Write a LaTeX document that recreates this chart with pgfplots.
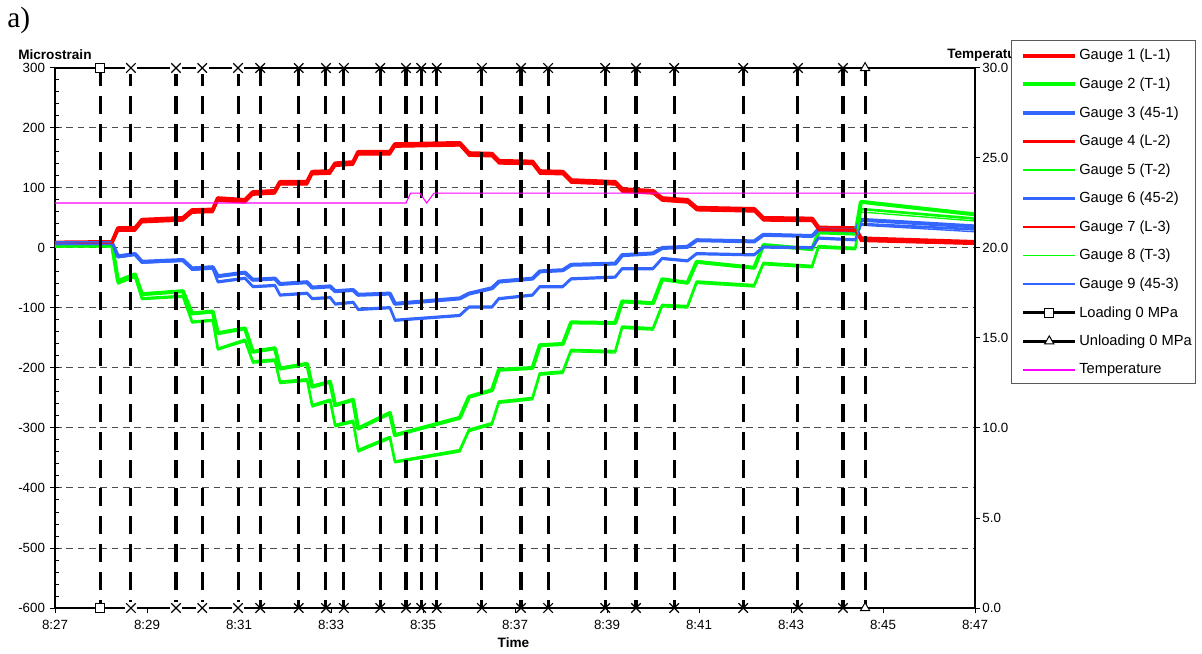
\documentclass[border=0pt]{standalone}
\usepackage{fontspec}
\setmainfont{Liberation Sans}
\newfontfamily\serifA{Liberation Serif}
\usepackage{pgfplots}
\usepackage{pgfplotstable}
\pgfplotsset{compat=1.18}

\definecolor{gred}{RGB}{255,0,0}
\definecolor{ggreen}{RGB}{0,255,0}
\definecolor{gblue}{RGB}{51,102,255}
\definecolor{tmag}{RGB}{255,0,255}

% strain readings (microstrain), time in minutes after 8:00
\pgfplotstableread{
t     g1   g2    g3   g4   g5    g6    g7   g8    g9
27.00 9    4     8    7    3     7     6    2     6
28.24 10   5     8    8    3     7     7    2     6
28.37 33   -55   -14  30   -58   -15   28   -60   -16
28.74 33   -44   -10  30   -47   -11   28   -49   -12
28.89 47   -77   -23  44   -84   -24   42   -86   -25
29.78 50   -72   -20  47   -80   -21   45   -82   -22
29.98 63   -109  -34  60   -123  -36   58   -125  -37
30.43 64   -106  -32  61   -120  -34   59   -122  -35
30.54 83   -142  -47  80   -168  -56   78   -170  -58
31.13 80   -134  -41  77   -153  -50   75   -156  -52
31.30 93   -173  -53  90   -189  -64   88   -192  -66
31.78 95   -167  -51  92   -186  -62   90   -189  -64
31.89 110  -201  -60  107  -223  -78   105  -226  -80
32.48 110  -193  -57  107  -219  -75   105  -222  -77
32.59 127  -231  -66  124  -262  -84   122  -265  -86
32.98 128  -223  -64  125  -253  -82   123  -256  -84
33.09 141  -262  -72  138  -295  -93   136  -298  -95
33.48 143  -253  -70  140  -288  -90   138  -291  -92
33.59 160  -301  -78  157  -337  -102  155  -340  -104
34.28 160  -275  -76  157  -315  -99   155  -318  -101
34.39 173  -312  -93  170  -356  -120  168  -358  -122
35.80 175  -283  -84  172  -337  -112  170  -340  -114
36.00 158  -248  -76  155  -303  -98   153  -306  -100
36.50 157  -237  -67  154  -292  -98   152  -295  -100
36.65 145  -203  -56  142  -256  -84   140  -259  -86
37.38 144  -200  -51  141  -250  -78   139  -253  -80
37.54 128  -162  -39  125  -209  -64   123  -212  -66
38.04 127  -160  -37  124  -206  -64   122  -209  -66
38.22 113  -124  -28  110  -170  -51   108  -173  -53
39.18 110  -125  -26  107  -172  -48   105  -175  -50
39.33 98   -89   -12  95   -131  -34   93   -134  -36
40.00 95   -92   -9   92   -134  -34   90   -137  -36
40.20 83   -52   0    80   -95   -17   78   -98   -19
40.75 80   -58   2    77   -97   -21   75   -100  -23
40.95 67   -23   13   64   -56   -9    62   -59   -11
42.20 65   -33   11   62   -62   -11   60   -65   -13
42.40 50   5     22   47   -25   2     45   -28   0
43.46 49   -2    20   46   -30   1     44   -33   -1
43.60 34   26    31   31   3     17    29   0     15
44.40 33   24    29   30   0     14    28   -3    12
44.52 16   77    47   13   65    40    11   60    38
47.00 10   56    36   8    49    31    6    45    27
}\gaugedata

% temperature (deg C)
\pgfplotstableread{
t     T
27.00 22.5
34.63 22.5
34.73 23.05
34.93 23.05
35.08 22.5
35.24 23.05
47.00 23.05
}\tempdata

% load steps: vertical lines from top to bottom
\pgfplotstableread{
t     y
27.98 300
27.98 -600
nan   nan
28.65 300
28.65 -600
nan   nan
29.63 300
29.63 -600
nan   nan
30.20 300
30.20 -600
nan   nan
30.98 300
30.98 -600
nan   nan
31.46 300
31.46 -600
nan   nan
32.30 300
32.30 -600
nan   nan
32.89 300
32.89 -600
nan   nan
33.28 300
33.28 -600
nan   nan
34.07 300
34.07 -600
nan   nan
34.63 300
34.63 -600
nan   nan
34.96 300
34.96 -600
nan   nan
35.30 300
35.30 -600
nan   nan
36.28 300
36.28 -600
nan   nan
37.13 300
37.13 -600
nan   nan
37.72 300
37.72 -600
nan   nan
38.96 300
38.96 -600
nan   nan
39.63 300
39.63 -600
nan   nan
40.46 300
40.46 -600
nan   nan
41.96 300
41.96 -600
nan   nan
43.15 300
43.15 -600
nan   nan
44.13 300
44.13 -600
nan   nan
44.61 300
44.61 -600
}\eventlines

\pgfplotstableread{
t     y
28.65 300
28.65 -600
29.63 300
29.63 -600
30.20 300
30.20 -600
30.98 300
30.98 -600
}\crossA

\pgfplotstableread{
t     y
31.46 300
31.46 -600
32.30 300
32.30 -600
32.89 300
32.89 -600
33.28 300
33.28 -600
34.07 300
34.07 -600
34.63 300
34.63 -600
34.96 300
34.96 -600
35.30 300
35.30 -600
36.28 300
36.28 -600
37.13 300
37.13 -600
37.72 300
37.72 -600
38.96 300
38.96 -600
39.63 300
39.63 -600
40.46 300
40.46 -600
41.96 300
41.96 -600
43.15 300
43.15 -600
44.13 300
44.13 -600
}\crossB

\pgfplotstableread{
t     y
27.98 300
27.98 -600
}\loadzero

\pgfplotstableread{
t     y
44.61 300
44.61 -600
}\unloadzero

\newcommand\ticksize{\fontsize{10}{12}\selectfont}
\newcommand\titlesize{\bfseries\fontsize{10.2}{12}\selectfont}

\begin{document}
\begin{tikzpicture}
\path[use as bounding box] (0,0) rectangle (901.5pt,489.75pt);

\node[anchor=base west, inner sep=0pt, font=\serifA\fontsize{22}{26}\selectfont] at (5.25pt,468.75pt) {a)};
\node[anchor=west, inner sep=0pt, font=\titlesize] at (13.5pt,448.5pt) {Microstrain};
\node[anchor=west, inner sep=0pt, font=\titlesize] at (710.25pt,448.5pt) {Temperature};
\node[anchor=center, inner sep=0pt, font=\titlesize] at (385.1pt,7.5pt) {Time};

% legend frame
\draw[draw=black!65, fill=white, line width=0.75pt] (758.25pt,201.75pt) rectangle (896.25pt,459pt);

\begin{axis}[
  at={(41.25pt,33.75pt)}, anchor=south west,
  scale only axis, width=690pt, height=405pt,
  xmin=27, xmax=47, ymin=-600, ymax=300,
  clip=false,
  axis x line*=bottom, axis y line*=left,
  axis line style={-, black, line width=1pt},
  xtick={27,29,...,47},
  xticklabels={8:27,8:29,8:31,8:33,8:35,8:37,8:39,8:41,8:43,8:45,8:47},
  ytick={-600,-500,...,300},
  yticklabels={-600,-500,-400,-300,-200,-100,0,100,200,300},
  minor ytick={-580,-560,...,280},
  tick align=outside,
  major tick length=4pt, minor tick length=3pt,
  tick style={black, line width=0.75pt},
  minor tick style={xshift=3pt},
  ymajorgrids,
  major grid style={black!70, line width=0.75pt, dash pattern=on 5pt off 3.5pt},
  tick label style={font=\ticksize},
  xticklabel style={yshift=-1.5pt},
  unbounded coords=jump,
  legend image code/.code={\draw[mark repeat=2,mark phase=2,#1] plot coordinates {(0pt,0pt) (19.5pt,0pt) (39pt,0pt)};},
  legend cell align=left,
  legend style={at={(1.05,1.05)}, anchor=north west, draw=none, fill=none,
    inner xsep=0pt, inner ysep=0pt, row sep=0pt, column sep=1.5pt,
    font=\fontsize{11}{13}\selectfont,
    nodes={inner sep=0pt, minimum height=21.43pt, anchor=west}},
]
\addplot[gred, line width=3pt, line join=round, mark=none] table[x=t,y=g1] {\gaugedata};
\addlegendentry{Gauge 1 (L-1)}
\addplot[ggreen, line width=3pt, line join=round, mark=none] table[x=t,y=g2] {\gaugedata};
\addlegendentry{Gauge 2 (T-1)}
\addplot[gblue, line width=3pt, line join=round, mark=none] table[x=t,y=g3] {\gaugedata};
\addlegendentry{Gauge 3 (45-1)}
\addplot[gred, line width=2pt, line join=round, mark=none] table[x=t,y=g4] {\gaugedata};
\addlegendentry{Gauge 4 (L-2)}
\addplot[ggreen, line width=2pt, line join=round, mark=none] table[x=t,y=g5] {\gaugedata};
\addlegendentry{Gauge 5 (T-2)}
\addplot[gblue, line width=2pt, line join=round, mark=none] table[x=t,y=g6] {\gaugedata};
\addlegendentry{Gauge 6 (45-2)}
\addplot[gred, line width=1pt, line join=round, mark=none] table[x=t,y=g7] {\gaugedata};
\addlegendentry{Gauge 7 (L-3)}
\addplot[ggreen, line width=1pt, line join=round, mark=none] table[x=t,y=g8] {\gaugedata};
\addlegendentry{Gauge 8 (T-3)}
\addplot[gblue, line width=1pt, line join=round, mark=none] table[x=t,y=g9] {\gaugedata};
\addlegendentry{Gauge 9 (45-3)}

% top and bottom rails
\addplot[black, line width=2.2pt, mark=none, forget plot] coordinates {(27,300) (47,300)};
\addplot[black, line width=2.2pt, mark=none, forget plot] coordinates {(27,-600) (47,-600)};

% load steps
\addplot[black, line width=2.3pt, mark=none, dash pattern=on 13.5pt off 7.5pt, forget plot] table[x=t,y=y] {\eventlines};
\addplot[only marks, mark=square*, mark size=4.2pt, white, forget plot] table[x=t,y=y] {\crossA};
\addplot[only marks, mark=x, mark size=5pt, black, line width=0.9pt, forget plot] table[x=t,y=y] {\crossA};
\addplot[only marks, mark=x, mark size=5pt, black, line width=0.9pt, forget plot] table[x=t,y=y] {\crossB};
\addplot[only marks, mark=square*, mark size=3.4pt, mark options={fill=white, draw=black, line width=0.75pt}, forget plot] table[x=t,y=y] {\loadzero};
\addplot[only marks, mark=triangle*, mark size=4pt, mark options={fill=white, draw=black, line width=0.75pt}, forget plot] table[x=t,y=y] {\unloadzero};

\addlegendimage{black, line width=2.25pt, mark=square*, mark size=3.4pt, mark options={fill=white, draw=black, line width=0.75pt}}
\addlegendentry{Loading 0 MPa}
\addlegendimage{black, line width=2.25pt, mark=triangle*, mark size=4pt, mark options={fill=white, draw=black, line width=0.75pt}}
\addlegendentry{Unloading 0 MPa}
\addlegendimage{tmag, line width=1pt, mark=none}
\addlegendentry{Temperature}
\end{axis}

\begin{axis}[
  at={(41.25pt,33.75pt)}, anchor=south west,
  scale only axis, width=690pt, height=405pt,
  xmin=27, xmax=47, ymin=0, ymax=30,
  axis x line=none, axis y line*=right,
  axis line style={-, black, line width=1pt},
  ytick={0,5,...,30},
  yticklabels={0.0,5.0,10.0,15.0,20.0,25.0,30.0},
  tick align=outside, major tick length=4pt,
  tick style={black, line width=0.75pt},
  tick label style={font=\ticksize},
  yticklabel style={xshift=-2pt},
]
\addplot[tmag, line width=0.8pt, mark=none] table[x=t,y=T] {\tempdata};
\end{axis}
\end{tikzpicture}
\end{document}
